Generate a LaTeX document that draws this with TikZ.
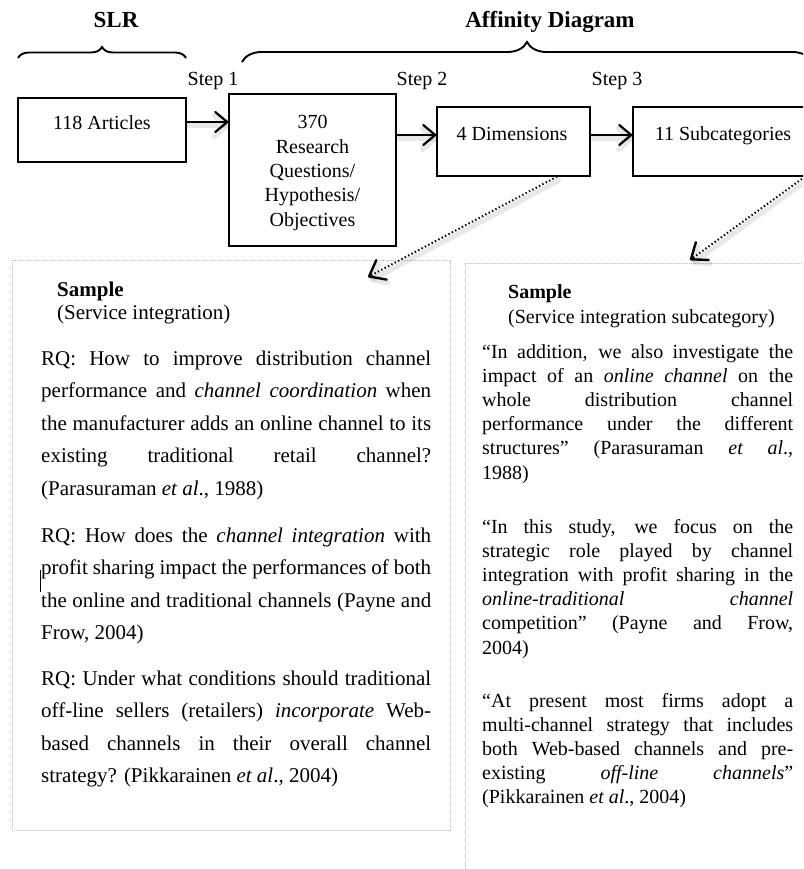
\documentclass[tikz,border=0pt]{standalone}
\usepackage{fontspec}
\setmainfont{Liberation Serif}
\usetikzlibrary{arrows.meta,decorations.pathreplacing,calc}
\tolerance=10000
\hbadness=10000
\begin{document}
\begin{tikzpicture}[x=1pt,y=-1pt,
  stage/.style={draw=black, line width=1.3pt, rectangle, inner sep=0pt},
  lbl/.style={font=\fontsize{20}{24}\selectfont, inner sep=0pt, anchor=base},
  head/.style={font=\fontsize{23}{27}\selectfont\bfseries, inner sep=0pt, anchor=base},
  barb/.style={-{Straight Barb[length=12pt,width=20pt,line width=2.2pt,round]}},
  bigbarb/.style={-{Straight Barb[length=14pt,width=22pt,line width=2.4pt,round]}},
  flow/.style={barb, line width=2pt},
  link/.style={bigbarb, line width=2pt, dash pattern=on 1.4pt off 2.4pt},
  softshade/.style={draw=black, draw opacity=0.09, line width=5pt, line cap=round,
    transform canvas={shift={(1.5pt,-4pt)}},
    -{Straight Barb[length=13pt,width=21pt,line width=5pt,round]}},
  panel/.style={draw=gray!55, line width=0.8pt, dash pattern=on 0.8pt off 1.2pt, inner sep=0pt},
  curly/.style={decorate, decoration={brace, amplitude=#1, aspect=0.5}, line width=1.9pt},
  lpara/.style={font=\fontsize{21}{32.5}\selectfont, text width=390pt, align=justify, inner sep=0pt, anchor=base west},
  rpara/.style={font=\fontsize{20}{24.2}\selectfont, text width=311pt, align=justify, inner sep=0pt, anchor=base west},
  lhead/.style={font=\fontsize{21}{25}\selectfont, inner sep=0pt, anchor=base west},
  rhead/.style={font=\fontsize{20}{24}\selectfont, inner sep=0pt, anchor=base west},
]
\useasboundingbox (0,0) rectangle (803,869);
\clip (0,0) rectangle (803,869);
\fill[white] (0,0) rectangle (803,869);

% headings and braces
\node[head] (slr) at (116,28) {SLR};
\node[head] (aff) at (550,28) {Affinity Diagram};
\draw[curly=11pt] (18,58) -- (186,58);
\draw[curly=20pt] (242,62) -- (812,62);

% step labels
\node[lbl] (s1) at (213,86) {Step 1};
\node[lbl] (s2) at (422,86) {Step 2};
\node[lbl] (s3) at (617,86) {Step 3};

% process boxes
\node[stage, minimum width=168, minimum height=64] (art) at (102,130) {};
\node[stage, minimum width=167, minimum height=152] (rq) at (312.5,170) {};
\node[stage, minimum width=153, minimum height=69] (dim) at (513.5,141.5) {};
\node[stage, minimum width=190, minimum height=69] (sub) at (728,141.5) {};

\node[lbl] (artT) at (102,130) {118 Articles};
\node[lbl, font=\fontsize{20}{24.3}\selectfont, text width=160, align=center] (rqT) at (312.5,129)
  {370\\Research\\Questions/\\Hypothesis/\\Objectives};
\node[lbl] (dimT) at (512,141) {4 Dimensions};
\node[lbl] (subT) at (723,141) {11 Subcategories};

% sample panels
\node[panel, minimum width=438, minimum height=570] (lpanel) at (231,545) {};
\node[panel, minimum width=365, minimum height=627] (rpanel) at (647.5,576.5) {};

% arrow anchor points
\coordinate (a1) at ([yshift=8pt]art.east);
\coordinate (a2) at ([yshift=6.5pt]dim.west);
\coordinate (a3) at ([yshift=6.5pt]sub.west);
\coordinate (tip1) at (368,277);
\coordinate (tip2) at (690,260);

% soft shadows under the arrows
\draw[softshade] (a1) -- (a1 -| rq.west);
\draw[softshade] (a2 -| rq.east) -- (a2);
\draw[softshade] (a3 -| dim.east) -- (a3);
\draw[softshade] ([xshift=43.5pt]dim.south) -- (tip1);
\draw[softshade] ([xshift=77pt]sub.south) -- (tip2);

% solid flow arrows
\draw[flow] (a1) -- (a1 -| rq.west);
\draw[flow] (a2 -| rq.east) -- (a2);
\draw[flow] (a3 -| dim.east) -- (a3);

% dotted links to the samples
\draw[link] ([xshift=43.5pt]dim.south) -- (tip1);
\draw[link] ([xshift=77pt]sub.south) -- (tip2);

% left sample
\node[lhead] (lh1) at (57,296) {\bfseries Sample};
\node[lhead] (lh2) at (57,319) {(Service integration)};
\node[lpara] (lp1) at (41,365) {RQ: How to improve distribution channel\linebreak
 performance and \textit{channel coordination} when\linebreak
 the manufacturer adds an online channel to its\linebreak
 existing traditional retail channel?\linebreak
 (Parasuraman \textit{et al}., 1988)};
\node[lpara] (lp2) at (41,542) {RQ: How does the \textit{channel integration} with\linebreak
 profit sharing impact the performances of both\linebreak
 the online and traditional channels (Payne and\linebreak
 Frow, 2004)};
\node[lpara] (lp3) at (41,685) {RQ: Under what conditions should traditional\linebreak
 off-line sellers (retailers) \textit{incorporate} Web-\linebreak
 based channels in their overall channel\linebreak
 strategy? (Pikkarainen \textit{et al}., 2004)};
\draw[line width=0.8pt] (40,570) -- (40,592);

% right sample
\node[rhead] (rh1) at (508,298) {\bfseries Sample};
\node[rhead] (rh2) at (508,323) {(Service integration subcategory)};
\node[rpara] (rp1) at (482,358) {“In addition, we also investigate the\linebreak
 impact of an \textit{online channel} on the\linebreak
 whole distribution channel\linebreak
 performance under the different\linebreak
 structures” (Parasuraman \textit{et al}.,\linebreak
 1988)};
\node[rpara] (rp2) at (482,533) {“In this study, we focus on the\linebreak
 strategic role played by channel\linebreak
 integration with profit sharing in the\linebreak
 \textit{online-traditional channel}\linebreak
 competition” (Payne and Frow,\linebreak
 2004)};
\node[rpara] (rp3) at (482,707) {“At present most firms adopt a\linebreak
 multi-channel strategy that includes\linebreak
 both Web-based channels and pre-\linebreak
 existing \textit{off-line channels}”\linebreak
 (Pikkarainen \textit{et al}., 2004)};
\end{tikzpicture}
\end{document}
